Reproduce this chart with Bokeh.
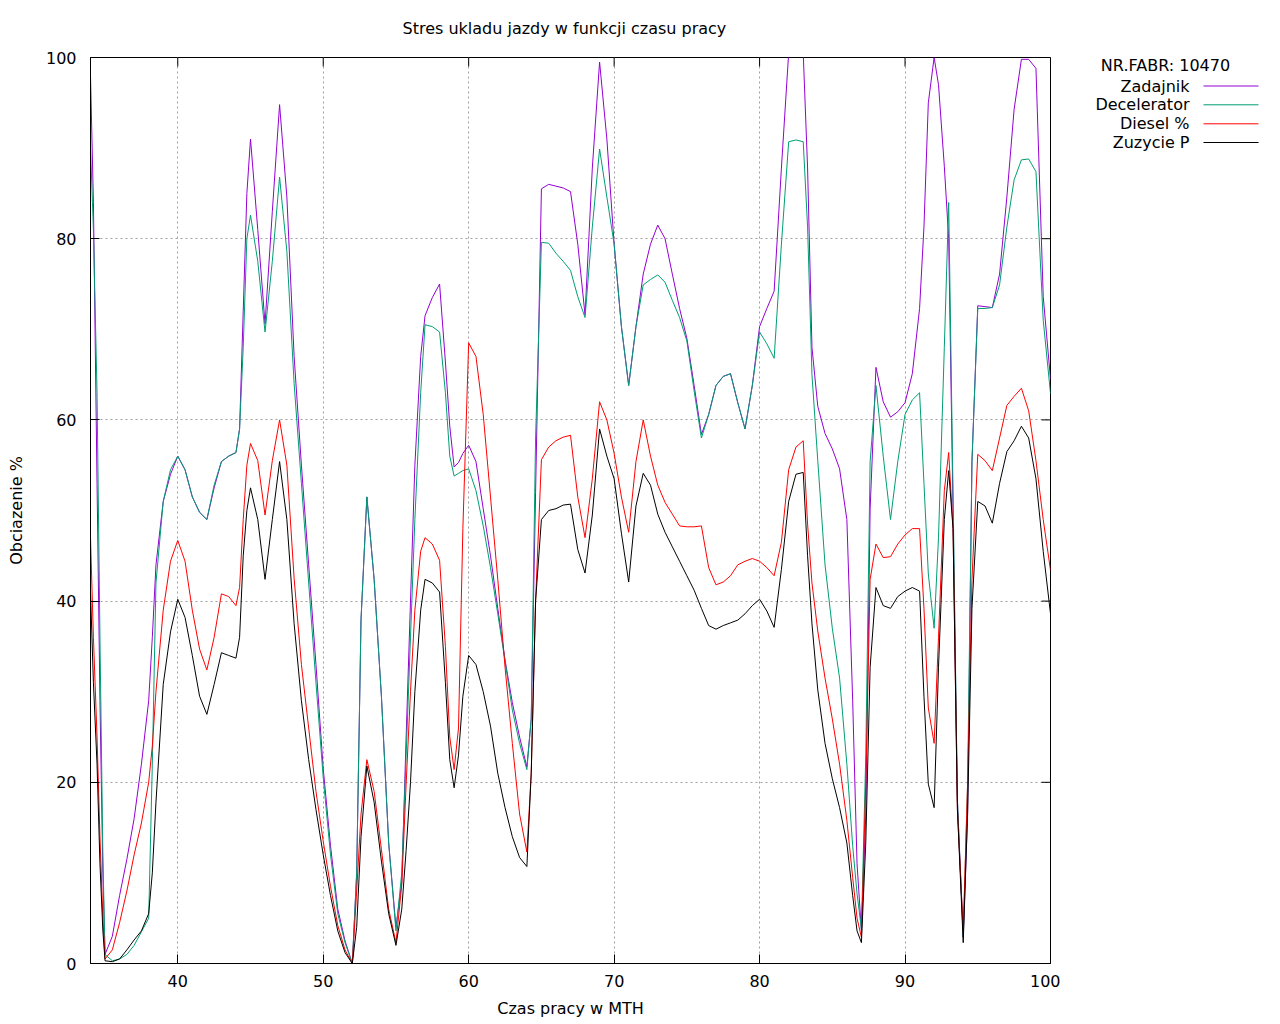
from bokeh.plotting import figure
from bokeh.layouts import row
from bokeh.models import Range1d, FixedTicker, Title
from bokeh.core.properties import value
from bokeh.embed import file_html
from bokeh.resources import INLINE

FONT = "DejaVu Sans"

title_text = "Stres ukladu jazdy w funkcji czasu pracy"
x_label = "Czas pracy w MTH"
y_label = "Obciazenie %"
legend_header = "NR.FABR: 10470"
series_names = ["Zadajnik", "Decelerator", "Diesel %", "Zuzycie P"]
series_colors = ["#9400d3", "#009e73", "#ff0000", "#000000"]
x_ticks = [40, 50, 60, 70, 80, 90, 100]
y_ticks = [0, 20, 40, 60, 80, 100]

mth = [34, 34.2, 34.45, 34.65, 34.85, 35, 35.5, 36, 36.5, 37,
       37.5, 38, 38.25, 38.5, 39, 39.5, 40, 40.5, 41, 41.5,
       42, 42.5, 43, 43.5, 44, 44.25, 44.5, 44.75, 45, 45.5,
       46, 46.5, 47, 47.5, 48, 48.5, 49, 49.5, 50, 50.5,
       51, 51.5, 52, 52.3, 52.6, 53, 53.5, 54, 54.5, 55,
       55.4, 55.7, 56, 56.3, 56.7, 57, 57.5, 58, 58.4, 58.7,
       59, 59.3, 59.6, 60, 60.5, 61, 61.5, 62, 62.5, 63,
       63.5, 64, 64.3, 64.6, 65, 65.5, 66, 66.5, 67, 67.5,
       68, 68.5, 69, 69.5, 70, 70.5, 71, 71.5, 72, 72.5,
       73, 73.5, 74, 74.5, 75, 75.5, 76, 76.5, 77, 77.5,
       78, 78.5, 79, 79.5, 80, 80.5, 81, 81.5, 82, 82.5,
       83, 83.3, 83.6, 84, 84.5, 85, 85.5, 86, 86.4, 86.7,
       87, 87.3, 87.6, 88, 88.5, 89, 89.5, 90, 90.5, 91,
       91.3, 91.6, 92, 92.3, 92.7, 93, 93.3, 93.6, 94, 94.3,
       94.6, 95, 95.5, 96, 96.5, 97, 97.5, 98, 98.5, 99,
       99.5, 100]

zadajnik = [98, 84, 53, 29, 10, 1, 3, 7.5, 11.5, 16,
            22, 29, 36, 44, 51, 54, 56, 54.5, 51.5, 49.8,
            49, 52.5, 55.4, 56, 56.4, 59, 72, 85, 91, 81,
            70.6, 83, 94.8, 84.6, 67, 55, 44, 33, 21.5, 13,
            6, 2.5, 0, 10, 38, 51.5, 42.4, 29.5, 13.3, 4,
            9, 25, 40, 55, 67, 71.5, 73.5, 75, 66.4, 59.3,
            54.8, 55.3, 56.3, 57.2, 55.4, 50.2, 45, 39.2, 33.5, 28.8,
            25, 21.7, 27, 52, 85.5, 86, 85.8, 85.6, 85.2, 79.4,
            71.6, 87.8, 99.5, 91, 79.4, 70.3, 63.8, 70.3, 76.1, 79.4,
            81.5, 80, 76.1, 72.3, 69, 63.8, 58.4, 60.6, 63.8, 64.8,
            65.1, 61.9, 59, 63.8, 70.3, 72.3, 74.2, 87.8, 100.5, 104,
            100.5, 87.8, 68, 61.5, 58.5, 56.8, 54.6, 49, 29, 11,
            3.6, 16.5, 50.2, 65.8, 62, 60.3, 60.9, 61.9, 65.1, 72.3,
            81.3, 95, 100, 97, 88, 80, 50, 18, 2.9, 16.5,
            55.4, 72.6, 72.5, 72.4, 76.1, 84.6, 94.3, 99.8, 99.8, 98.8,
            73.6, 64.5]

decelerator = [90, 81, 63, 36, 12, 1, 0.3, 0.5, 1, 2,
               3.5, 5, 22, 42, 51, 54.5, 56, 54.5, 51.5, 49.8,
               49, 52.8, 55.4, 56, 56.4, 59, 68, 80, 82.6, 77.5,
               69.7, 77.5, 86.8, 78.6, 64, 53, 42, 31, 20.5, 12,
               5.5, 2.3, 0, 10, 38, 51.5, 42.4, 29.5, 13.3, 3.6,
               10, 23, 36, 49, 63, 70.5, 70.3, 69.7, 63, 56,
               53.8, 54.1, 54.4, 54.6, 52.2, 48.3, 43.7, 38.6, 33.4, 28,
               24.3, 21.4, 27, 58, 79.6, 79.5, 78.4, 77.5, 76.5, 73.6,
               71.3, 81.3, 89.9, 84.6, 79.4, 70.3, 63.8, 70.3, 74.9, 75.5,
               76, 75.2, 73.2, 71.3, 68.7, 63.2, 58, 60.6, 63.8, 64.8,
               65.1, 61.9, 59, 63.8, 69.7, 68.4, 66.8, 79.4, 90.7, 90.9,
               90.7, 81.3, 65, 55.5, 44, 37, 31.5, 22, 13, 7.7,
               3.8, 23, 55.4, 63.8, 56, 49, 55.4, 60.6, 62.2, 63,
               53, 43, 37, 47, 68, 84, 52, 18, 2.9, 19.8,
               55.4, 72.3, 72.3, 72.4, 74.9, 81.3, 86.5, 88.7, 88.8, 87.4,
               71, 62.9]

diesel = [47, 36, 25, 14, 5, 0.5, 1.5, 4.5, 8, 12,
          15.5, 20, 24, 30, 39, 44.4, 46.7, 44.4, 39, 34.7,
          32.4, 36, 40.8, 40.5, 39.5, 41.5, 49, 55, 57.4, 55.5,
          49.5, 55.5, 60, 55, 42.5, 33, 26, 19, 13.5, 8.5,
          4.2, 1.5, 0, 8, 16.5, 22.5, 19, 12.6, 6, 2.3,
          8.7, 19.8, 30, 39, 45.5, 47, 46.3, 44.5, 35, 25,
          21.4, 26, 48, 68.5, 67, 60.6, 51.5, 42.4, 32.7, 24.3,
          16.5, 12.3, 21, 40, 55.6, 57, 57.7, 58.1, 58.3, 51.5,
          47, 53.5, 62, 60, 56.3, 51.5, 47.6, 55.4, 60, 56,
          52.8, 50.9, 49.6, 48.3, 48.2, 48.2, 48.3, 43.7, 41.8, 42.1,
          42.8, 44, 44.4, 44.7, 44.4, 43.7, 42.8, 46.5, 54.5, 57,
          57.7, 48.5, 42, 36.7, 31.5, 27, 22, 15.8, 9.5, 5,
          2.9, 19.8, 42.4, 46.3, 44.8, 44.9, 46.3, 47.3, 48, 48,
          39.2, 28.2, 24.3, 36, 52.2, 56.4, 48, 17, 3.6, 19.8,
          42.4, 56.2, 55.5, 54.4, 58, 61.6, 62.6, 63.5, 61, 55.5,
          49, 43.4]

zuzycie = [41, 31, 22, 11, 3.6, 0.3, 0.2, 0.5, 1.5, 2.6,
           3.6, 5.5, 10, 17.8, 30.8, 36.6, 40.2, 38.2, 34, 29.5,
           27.5, 30.8, 34.3, 34, 33.7, 36, 45, 50, 52.5, 49,
           42.4, 49, 55.4, 49, 37.5, 29, 22.5, 17, 12, 7.5,
           3.6, 1.2, 0, 4, 14, 21.8, 17.8, 11.3, 5.5, 2,
           6, 12.5, 20, 30, 39, 42.4, 42, 41, 31, 22.5,
           19.4, 23, 29.5, 34, 33, 30, 26.2, 21, 17.2, 14,
           11.7, 10.7, 21, 40, 49, 50, 50.2, 50.6, 50.7, 45.7,
           43.1, 49.5, 59, 56, 53.5, 47.5, 42.1, 50.5, 54.1, 52.8,
           49.6, 47.6, 46, 44.4, 42.8, 41.2, 39.2, 37.3, 36.9, 37.3,
           37.6, 37.9, 38.6, 39.5, 40.2, 38.9, 37.1, 43.5, 51, 54,
           54.2, 45, 37.5, 30.2, 24.3, 20.4, 17.2, 13.3, 7.5, 3.6,
           2.3, 13.3, 32.7, 41.5, 39.5, 39.2, 40.5, 41.1, 41.5, 41.1,
           29.5, 19.8, 17.2, 32.7, 49, 54.4, 48, 17, 2.3, 16.5,
           39.2, 51, 50.5, 48.6, 53, 56.5, 57.7, 59.3, 58, 53.5,
           45.5, 38.6]

series = [zadajnik, decelerator, diesel, zuzycie]
for s in series:
    assert len(s) == len(mth), (len(s), len(mth))

# ---- layout (pixels) ----
B_LEFT, B_RIGHT, B_TOP, B_BOTTOM = 90, 10, 57, 61
FRAME_W, FRAME_H = 960, 906
X0, X1, Y0, Y1 = 34, 100, 0, 100
TICK = 9
HEIGHT = B_TOP + FRAME_H + B_BOTTOM

p = figure(width=B_LEFT + FRAME_W + B_RIGHT, height=HEIGHT,
           x_range=Range1d(X0, X1), y_range=Range1d(Y0, Y1),
           output_backend="svg", toolbar_location=None,
           min_border_left=B_LEFT, min_border_right=B_RIGHT,
           min_border_top=B_TOP, min_border_bottom=B_BOTTOM,
           x_axis_label=x_label, y_axis_label=y_label)

p.background_fill_color = "white"
p.border_fill_color = "white"
p.outline_line_color = "black"
p.outline_line_width = 1

t = Title(text=title_text, align="left", vertical_align="top", text_font=FONT,
          text_font_size="16px", text_font_style="normal",
          text_color="black", standoff=36, offset=312)
p.add_layout(t, "above")

for ax in [p.xaxis[0], p.yaxis[0]]:
    ax.axis_line_color = "black"
    ax.major_tick_line_color = "black"
    ax.major_tick_in = TICK
    ax.major_tick_out = 0
    ax.minor_tick_line_color = None
    ax.major_label_text_font = FONT
    ax.major_label_text_font_size = "16px"
    ax.major_label_text_color = "black"
    ax.axis_label_text_font = FONT
    ax.axis_label_text_font_size = "16px"
    ax.axis_label_text_font_style = "normal"
    ax.axis_label_text_color = "black"

p.xaxis[0].ticker = FixedTicker(ticks=x_ticks)
p.yaxis[0].ticker = FixedTicker(ticks=y_ticks)
p.xaxis[0].major_label_standoff = 11
p.xaxis[0].axis_label_standoff = 9
p.yaxis[0].major_label_standoff = 14
p.yaxis[0].axis_label_standoff = 17

for g in (p.xgrid[0], p.ygrid[0]):
    g.grid_line_color = "#a0a0a0"
    g.grid_line_dash = "2 3"
    g.grid_line_width = 1

# mirrored inward ticks on the right and top borders
dx = TICK * (X1 - X0) / FRAME_W
dy = TICK * (Y1 - Y0) / FRAME_H
p.segment(x0=[X1 - dx] * len(y_ticks), y0=y_ticks, x1=[X1] * len(y_ticks), y1=y_ticks,
          line_color="black", line_width=1)
p.segment(x0=x_ticks, y0=[Y1 - dy] * len(x_ticks), x1=x_ticks, y1=[Y1] * len(x_ticks),
          line_color="black", line_width=1)

for vals, col in zip(series, series_colors):
    p.line(mth, vals, line_color=col, line_width=1)

# ---- legend panel: separate figure on the right, same vertical borders,
# pixel coordinates measured downward from the frame top ----
LW = 204
leg = figure(width=LW, height=HEIGHT, x_range=Range1d(0, LW), y_range=Range1d(FRAME_H, 0),
             output_backend="svg", toolbar_location=None,
             min_border_left=0, min_border_right=0,
             min_border_top=B_TOP, min_border_bottom=B_BOTTOM,
             x_axis_type=None, y_axis_type=None)
leg.outline_line_color = None
leg.grid.visible = False
leg.background_fill_color = "white"
leg.border_fill_color = "white"

hdr_x, hdr_y = 105, 8
txt_right = 129
line_x0, line_x1 = 143, 198
row_y = [28.5, 47.3, 66.3, 85]

leg.text(x=[hdr_x], y=[hdr_y], text=[legend_header], text_align="center",
         text_baseline="middle", text_font=value(FONT), text_font_size="16px",
         text_color="black")
leg.text(x=[txt_right] * len(series_names), y=row_y, text=series_names,
         text_align="right", text_baseline="middle", text_font=value(FONT),
         text_font_size="16px", text_color="black")
leg.segment(x0=[line_x0] * len(series_names), y0=row_y,
            x1=[line_x1] * len(series_names), y1=row_y,
            line_color=series_colors, line_width=1)

layout = row(p, leg)
open("out.html", "w").write(file_html(layout, INLINE))
